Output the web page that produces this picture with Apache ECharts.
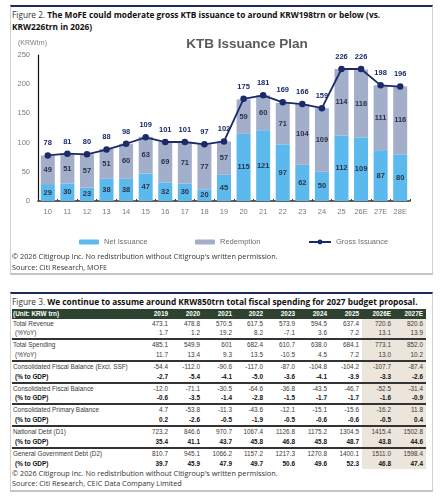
<!DOCTYPE html>
<html>
<head>
<meta charset="utf-8">
<script src="https://cdn.jsdelivr.net/npm/echarts@6/dist/echarts.min.js"></script>
<style>
  html, body { margin: 0; padding: 0; background: #fff; }
  body { width: 442px; height: 500px; position: relative; overflow: hidden; font-family: "Open Sans", "Noto Sans", sans-serif; }
  .panel { position: absolute; box-sizing: border-box; border: 1px solid #d0d0d0; border-top: 2px solid #1f2a5c; border-bottom: 2px solid #c4c4c4; }
  .ftitle { position: absolute; left: 12px; font-size: 8.3px; line-height: 12px; color: #111; white-space: nowrap; }
  .ftitle b { font-weight: 700; }
  .ftitle span { font-weight: 400; color: #333; }
  .note { position: absolute; left: 12px; font-size: 7.3px; line-height: 10px; color: #333; white-space: nowrap; }
  #chart { position: absolute; left: 0; top: 0; width: 442px; height: 290px; }
  table { position: absolute; left: 12px; top: 309px; width: 414px; border-collapse: collapse; table-layout: fixed;
          font-family: "Liberation Sans", Arial, sans-serif; font-size: 6.4px; color: #3a3a3a; }
  td { padding: 0 3px 0 0; height: 10.3px; line-height: 10.3px; text-align: right; white-space: nowrap; overflow: hidden; box-sizing: border-box; }
  td.lab { text-align: left; padding-left: 1px; }
  td.sub { padding-left: 3px; }
  tr.head td { background: #2d432f; color: #fff; font-weight: bold; height: 9.5px; line-height: 9.5px; }
  tr.bold td { font-weight: bold; color: #111; }
  tr.sep td { border-bottom: 2px solid #333; height: 10.4px; line-height: 8.4px; }
  td.shade { background: #ece5db; }
</style>
</head>
<body>
<div class="panel" style="left:10px;top:5px;width:423px;height:270px;"></div>
<div class="ftitle" style="top:9px;"><span>Figure 2. </span><b>The MoFE could moderate gross KTB issuance to around KRW198trn or below (vs.</b><br><b>KRW226trn in 2026)</b></div>
<div id="chart"></div>
<div class="note" style="top:251px;">© 2026 Citigroup Inc. No redistribution without Citigroup's written permission.</div>
<div class="note" style="top:262px;">Source: Citi Research, MOFE</div>

<div class="panel" style="left:10px;top:292px;width:423px;height:200px;"></div>
<div class="ftitle" style="top:296px;"><span>Figure 3. </span><b>We continue to assume around KRW850trn total fiscal spending for 2027 budget proposal.</b></div>
<table id="tbl"></table>
<div class="note" style="top:468px;">© 2026 Citigroup Inc. No redistribution without Citigroup's written permission.</div>
<div class="note" style="top:478px;">Source: Citi Research, CEIC Data Company Limited</div>

<script>
// Figure 2 data
var years = ['10', '11', '12', '13', '14', '15', '16', '17', '18', '19', '20', '21', '22', '23', '24', '25', '26E', '27E', '28E'];
var netIssuance = [29, 30, 23, 38, 38, 47, 32, 30, 20, 45, 115, 121, 97, 62, 50, 112, 109, 87, 80];
var redemption = [49, 51, 57, 51, 60, 63, 69, 71, 77, 57, 59, 60, 71, 104, 109, 114, 116, 111, 116];
var grossIssuance = [78, 81, 80, 88, 98, 109, 101, 101, 97, 102, 175, 181, 169, 166, 159, 226, 226, 198, 196];

// Figure 3 data
var tblYears = ['2019', '2020', '2021', '2022', '2023', '2024', '2025', '2026E', '2027E'];
var totalRevenue = ['473.1', '478.8', '570.5', '617.5', '573.9', '594.5', '637.4', '720.6', '820.6'];
var revenueYoY = ['1.7', '1.2', '19.2', '8.2', '-7.1', '3.6', '7.2', '13.1', '13.9'];
var totalSpending = ['485.1', '549.9', '601', '682.4', '610.7', '638.0', '684.1', '773.1', '852.0'];
var spendingYoY = ['11.7', '13.4', '9.3', '13.5', '-10.5', '4.5', '7.2', '13.0', '10.2'];
var cfbExSSF = ['-54.4', '-112.0', '-90.6', '-117.0', '-87.0', '-104.8', '-104.2', '-107.7', '-87.4'];
var cfbExSSFGdp = ['-2.7', '-5.4', '-4.1', '-5.0', '-3.6', '-4.1', '-3.9', '-3.3', '-2.6'];
var cfb = ['-12.0', '-71.1', '-30.5', '-64.6', '-36.8', '-43.5', '-46.7', '-52.5', '-31.4'];
var cfbGdp = ['-0.6', '-3.5', '-1.4', '-2.8', '-1.5', '-1.7', '-1.7', '-1.6', '-0.9'];
var cpb = ['4.7', '-53.8', '-11.3', '-43.6', '-12.1', '-15.1', '-15.6', '-16.2', '11.8'];
var cpbGdp = ['0.2', '-2.6', '-0.5', '-1.9', '-0.5', '-0.6', '-0.6', '-0.5', '0.4'];
var debtD1 = ['723.2', '846.6', '970.7', '1067.4', '1126.8', '1175.2', '1304.5', '1415.4', '1502.8'];
var debtD1Gdp = ['35.4', '41.1', '43.7', '45.8', '46.8', '45.8', '48.7', '43.8', '44.6'];
var debtD2 = ['810.7', '945.1', '1066.2', '1157.2', '1217.3', '1270.8', '1400.1', '1511.0', '1598.4'];
var debtD2Gdp = ['39.7', '45.9', '47.9', '49.7', '50.6', '49.6', '52.3', '46.8', '47.4'];

// build the table
var rows = [
  ['Total Revenue', totalRevenue, ''],
  ['(%YoY)', revenueYoY, 'sep', 'sub'],
  ['Total Spending', totalSpending, ''],
  ['(%YoY)', spendingYoY, 'sep', 'sub'],
  ['Consolidated Fiscal Balance  (Excl. SSF)', cfbExSSF, ''],
  ['(% to GDP)', cfbExSSFGdp, 'bold sep', 'sub'],
  ['Consolidated Fiscal Balance', cfb, ''],
  ['(% to GDP)', cfbGdp, 'bold sep', 'sub'],
  ['Consolidated Primary  Balance', cpb, ''],
  ['(% to GDP)', cpbGdp, 'bold sep', 'sub'],
  ['National Debt (D1)', debtD1, ''],
  ['(% to GDP)', debtD1Gdp, 'bold sep', 'sub'],
  ['General Government Debt (D2)', debtD2, ''],
  ['(% to GDP)', debtD2Gdp, 'bold', 'sub']
];
var colW = [127, 32, 32, 32, 31, 32, 32, 32, 32, 32];
var html = '<colgroup>' + colW.map(function (w) { return '<col style="width:' + w + 'px">'; }).join('') + '</colgroup>';
html += '<tr class="head"><td class="lab">(Unit: KRW trn)</td>' + tblYears.map(function (y) { return '<td>' + y + '</td>'; }).join('') + '</tr>';
rows.forEach(function (r) {
  html += '<tr class="' + r[2] + '"><td class="lab ' + (r[3] || '') + '">' + r[0] + '</td>';
  r[1].forEach(function (v, i) {
    html += '<td' + (i >= 7 ? ' class="shade"' : '') + '>' + v + '</td>';
  });
  html += '</tr>';
});
document.getElementById('tbl').innerHTML = html;

// chart
var myChart = echarts.init(document.getElementById('chart'));
var barLabel = { show: true, position: 'inside', color: '#2b3344', fontSize: 7.5, fontWeight: 'bold', fontFamily: 'Liberation Sans' };
var option = {
  backgroundColor: 'transparent',
  animation: false,
  textStyle: { fontFamily: 'Liberation Sans' },
  title: [
    { text: 'KTB Issuance Plan', left: 242, top: 32, textAlign: 'center',
      textStyle: { fontSize: 13.5, fontWeight: 'bold', color: '#5a5a5a', fontFamily: 'Liberation Sans' } },
    { text: '(KRWtrn)', left: 13, top: 35,
      textStyle: { fontSize: 7, fontWeight: 'normal', color: '#808080', fontFamily: 'Liberation Sans' } }
  ],
  legend: [
    { data: ['Net Issuance'], left: 74, top: 233, itemWidth: 20, itemHeight: 5, itemGap: 4,
      textStyle: { fontSize: 7.5, color: '#6e6e6e' } },
    { data: ['Redemption'], left: 190, top: 233, itemWidth: 20, itemHeight: 5,
      textStyle: { fontSize: 7.5, color: '#6e6e6e' } },
    { data: ['Gross Issuance'], left: 303, top: 233, itemWidth: 22, itemHeight: 6,
      textStyle: { fontSize: 7.5, color: '#6e6e6e' } }
  ],
  grid: { left: 38, right: 32, top: 55, bottom: 89 },
  xAxis: {
    type: 'category',
    data: years,
    axisLine: { lineStyle: { color: '#333', width: 1.5 } },
    axisTick: { show: true, length: 2, inside: true, lineStyle: { color: '#333' } },
    axisLabel: { fontSize: 7.5, color: '#7a7a7a', margin: 7 }
  },
  yAxis: {
    type: 'value',
    min: 0,
    max: 250,
    interval: 50,
    splitLine: { show: false },
    axisLine: { show: true, lineStyle: { color: '#111', width: 1.2 } },
    axisTick: { show: false },
    axisLabel: { fontSize: 7.5, color: '#7a7a7a', margin: 8 }
  },
  series: [
    {
      name: 'Net Issuance',
      type: 'bar',
      stack: 'ktb',
      barWidth: 14,
      itemStyle: { color: '#5cb9ee' },
      label: barLabel,
      data: netIssuance
    },
    {
      name: 'Redemption',
      type: 'bar',
      stack: 'ktb',
      barWidth: 14,
      itemStyle: { color: '#a3aecb' },
      label: barLabel,
      data: redemption
    },
    {
      name: 'Gross Issuance',
      type: 'line',
      symbol: 'circle',
      symbolSize: 6.5,
      itemStyle: { color: '#1b2a68' },
      lineStyle: { color: '#1b2a68', width: 1.8 },
      label: { show: true, position: 'top', distance: 5, color: '#1b2a68', fontSize: 7.5, fontWeight: 'bold' },
      data: grossIssuance
    }
  ]
};
myChart.setOption(option);
</script>
</body>
</html>
